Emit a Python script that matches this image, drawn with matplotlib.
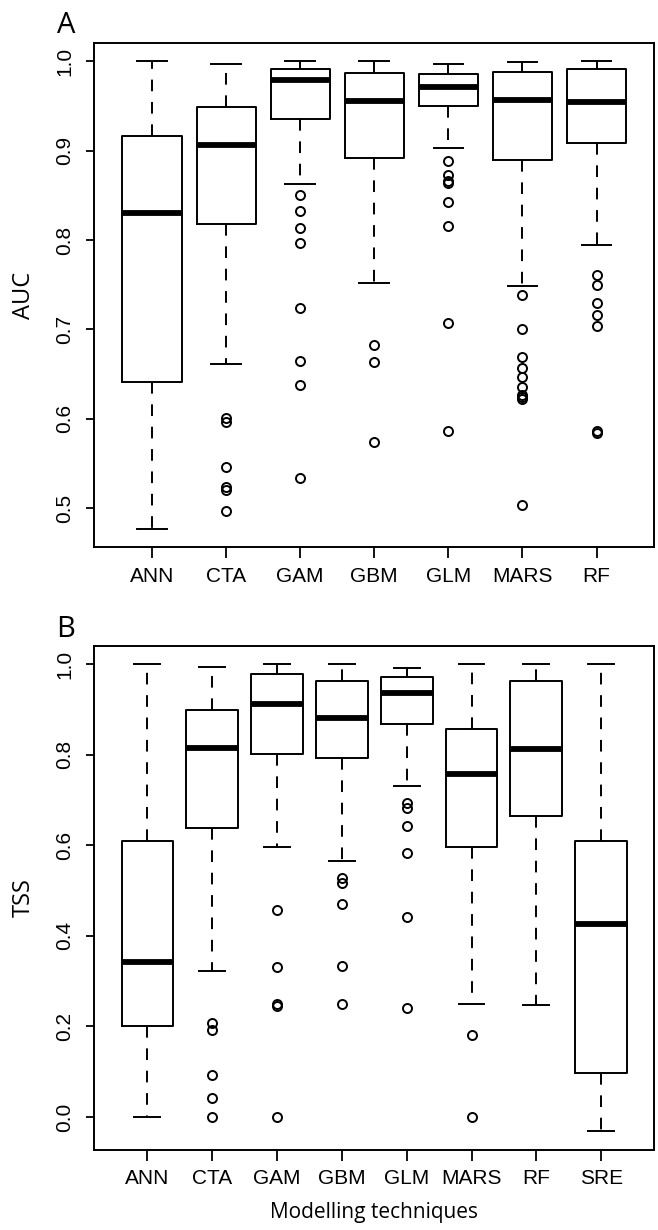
import matplotlib
matplotlib.use("Agg")
import matplotlib.pyplot as plt

# Panel A - AUC
models_a = ["ANN", "CTA", "GAM", "GBM", "GLM", "MARS", "RF"]
auc_whislo = [0.477, 0.661, 0.863, 0.752, 0.903, 0.749, 0.794]
auc_q1 = [0.641, 0.818, 0.936, 0.892, 0.950, 0.890, 0.909]
auc_med = [0.830, 0.906, 0.979, 0.956, 0.971, 0.957, 0.954]
auc_q3 = [0.917, 0.949, 0.992, 0.987, 0.986, 0.988, 0.992]
auc_whishi = [1.000, 0.997, 1.000, 1.000, 0.997, 0.999, 1.000]
auc_fliers = [
    [],
    [0.601, 0.596, 0.546, 0.524, 0.520, 0.497],
    [0.850, 0.833, 0.814, 0.797, 0.724, 0.665, 0.638, 0.534],
    [0.682, 0.663, 0.574],
    [0.889, 0.873, 0.866, 0.864, 0.843, 0.816, 0.707, 0.586],
    [0.739, 0.700, 0.669, 0.657, 0.647, 0.635, 0.627, 0.624, 0.622, 0.504],
    [0.761, 0.750, 0.730, 0.716, 0.704, 0.586, 0.584],
]

# Panel B - TSS
models_b = ["ANN", "CTA", "GAM", "GBM", "GLM", "MARS", "RF", "SRE"]
tss_whislo = [0.000, 0.323, 0.596, 0.565, 0.731, 0.249, 0.247, -0.032]
tss_q1 = [0.201, 0.638, 0.803, 0.794, 0.869, 0.596, 0.664, 0.097]
tss_med = [0.343, 0.816, 0.913, 0.882, 0.937, 0.757, 0.812, 0.427]
tss_q3 = [0.609, 0.900, 0.979, 0.963, 0.972, 0.858, 0.963, 0.609]
tss_whishi = [1.000, 0.995, 1.000, 1.000, 0.993, 1.000, 1.000, 1.000]
tss_fliers = [
    [],
    [0.207, 0.192, 0.092, 0.041, 0.000],
    [0.458, 0.332, 0.249, 0.246, 0.000],
    [0.528, 0.518, 0.471, 0.334, 0.250],
    [0.694, 0.683, 0.642, 0.583, 0.441, 0.240],
    [0.181, 0.000],
    [],
    [],
]

plt.rcParams["font.family"] = ["Liberation Sans", "DejaVu Sans"]
label_font = ["Open Sans", "DejaVu Sans"]


def make_stats(names, lo, q1, med, q3, hi, fl):
    stats = []
    for i in range(len(names)):
        stats.append(dict(label=names[i], whislo=lo[i], q1=q1[i], med=med[i],
                          q3=q3[i], whishi=hi[i], fliers=fl[i]))
    return stats


def r_boxplot(ax, stats):
    n = len(stats)
    ax.bxp(stats, positions=range(1, n + 1), widths=0.8,
           boxprops=dict(color="black", linewidth=1.4),
           medianprops=dict(color="black", linewidth=4.2, solid_capstyle="butt"),
           whiskerprops=dict(color="black", linewidth=1.4,
                             linestyle=(0, (6, 5.5))),
           capprops=dict(color="black", linewidth=1.4),
           capwidths=0.4,
           flierprops=dict(marker="o", markersize=6.5, markerfacecolor="none",
                           markeredgecolor="black", markeredgewidth=1.4,
                           linestyle="none"))
    lo = min(min(s["whislo"] for s in stats),
             min([min(s["fliers"]) for s in stats if len(s["fliers"])] or [1]))
    hi = max(s["whishi"] for s in stats)
    ext = (hi - lo) * 0.04
    ax.set_ylim(lo - ext, hi + ext)
    ax.set_xlim(0.5 - 0.04 * n, n + 0.5 + 0.04 * n)
    ax.tick_params(axis="x", length=8, width=1.3, pad=6, labelsize=15)
    ax.tick_params(axis="y", length=5.5, width=1.3, pad=9, labelsize=15)
    for lab in ax.get_yticklabels():
        lab.set_rotation(90)
        lab.set_va("center")
    for sp in ax.spines.values():
        sp.set_linewidth(1.4)


fig = plt.figure(figsize=(6.58, 12.30), dpi=100)
ax1 = fig.add_axes([0.1433, 0.555, 0.8511, 0.4103])
ax2 = fig.add_axes([0.1433, 0.065, 0.8511, 0.41])

ax1.set_yticks([0.5, 0.6, 0.7, 0.8, 0.9, 1.0])
ax1.set_yticklabels(["0.5", "0.6", "0.7", "0.8", "0.9", "1.0"])
r_boxplot(ax1, make_stats(models_a, auc_whislo, auc_q1, auc_med, auc_q3,
                          auc_whishi, auc_fliers))

ax2.set_yticks([0.0, 0.2, 0.4, 0.6, 0.8, 1.0])
ax2.set_yticklabels(["0.0", "0.2", "0.4", "0.6", "0.8", "1.0"])
r_boxplot(ax2, make_stats(models_b, tss_whislo, tss_q1, tss_med, tss_q3,
                          tss_whishi, tss_fliers))

ax1.set_ylabel("AUC", fontsize=17, family=label_font, va="center")
ax1.yaxis.set_label_coords(-0.126, 0.5)
ax2.set_ylabel("TSS", fontsize=17, family=label_font, va="center")
ax2.yaxis.set_label_coords(-0.126, 0.5)
ax2.set_xlabel("Modelling techniques", fontsize=15, family=label_font,
               va="center")
ax2.xaxis.set_label_coords(0.5, -0.123)

fig.text(66 / 658, 1 - 33 / 1230, "A", fontsize=21, family=label_font,
         ha="center", va="baseline")
fig.text(66 / 658, 1 - 637 / 1230, "B", fontsize=21, family=label_font,
         ha="center", va="baseline")

fig.savefig("out.png", dpi=100)
